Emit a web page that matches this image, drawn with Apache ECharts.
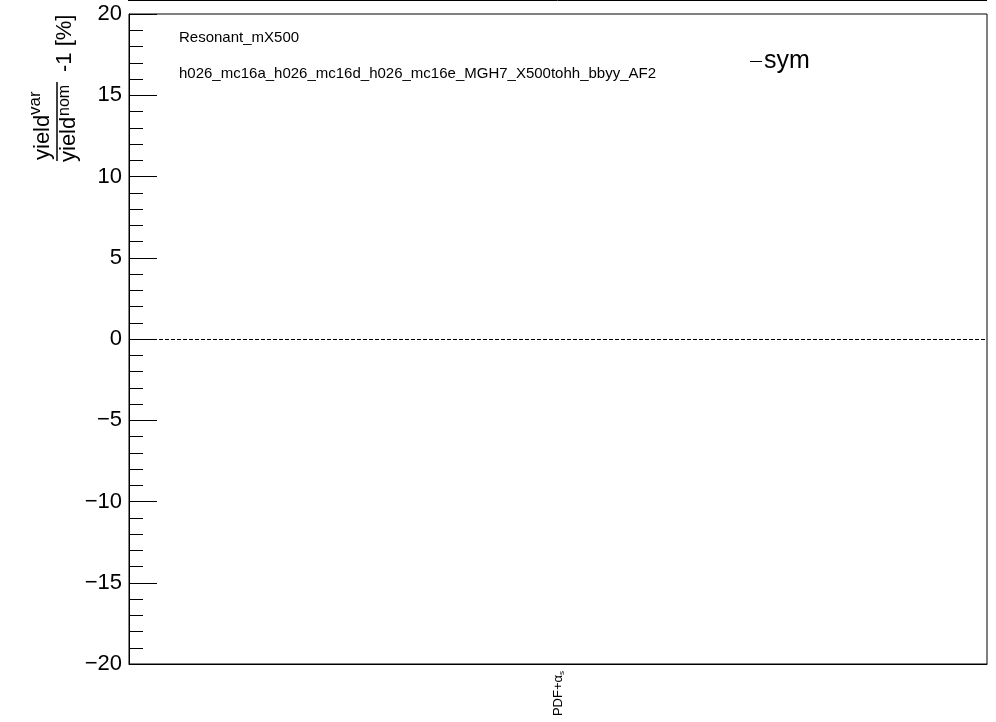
<!DOCTYPE html>
<html>
<head>
<meta charset="utf-8">
<script src="https://cdn.jsdelivr.net/npm/echarts@6/dist/echarts.min.js"></script>
<style>html,body{margin:0;padding:0;background:#fff}#c{width:996px;height:722px}</style>
</head>
<body>
<div id="c"></div>
<script>
// ---- data ----
const categories = ['PDF+α_s'];
const symValues = [0];
const seriesName = 'sym';
const yMin = -20, yMax = 20, yStep = 5;
const sampleLabel = 'Resonant_mX500';
const sampleName = 'h026_mc16a_h026_mc16d_h026_mc16e_MGH7_X500tohh_bbyy_AF2';

const F = 'Liberation Sans, Arial, Helvetica, sans-serif';
const chart = echarts.init(document.getElementById('c'), null, {renderer: 'canvas'});
chart.setOption({
  animation: false,
  backgroundColor: '#fff',
  grid: {left: 129, right: 9, top: 14, bottom: 58, show: true, borderColor: '#000', borderWidth: 1, backgroundColor: 'transparent'},
  legend: {
    left: 745, top: 44, itemWidth: 12, itemHeight: 1, icon: 'rect',
    data: [{name: seriesName, itemStyle: {color: '#000'}}],
    textStyle: {fontFamily: F, fontSize: 25, color: '#000', padding: [0,0,0,-3]}
  },
  xAxis: {
    type: 'category', data: categories,
    axisLine: {show: true, onZero: false, lineStyle: {color: '#000', width: 1}},
    axisTick: {show: false},
    splitLine: {show: false},
    axisLabel: {
      rotate: 90, margin: 7, color: '#000', fontFamily: F,
      formatter: function (v) {
        const m = v.match(/^(.*)α_(.*)$/);
        if (m) return '{n|' + m[1] + '}{a|α}{s|' + m[2] + '}';
        return '{n|' + v + '}';
      },
      rich: {
        n: {fontFamily: F, fontSize: 13, color: '#000', lineHeight: 15},
        a: {fontFamily: F, fontSize: 13, color: '#000', lineHeight: 15},
        s: {fontFamily: F, fontSize: 8, color: '#000', lineHeight: 8, verticalAlign: 'bottom', padding: [4, 0, 0, 0]}
      }
    }
  },
  yAxis: {
    type: 'value', min: yMin, max: yMax, interval: yStep,
    axisLine: {show: true, lineStyle: {color: '#000', width: 1}},
    axisTick: {show: true, inside: true, length: 28, lineStyle: {color: '#000', width: 1}},
    minorTick: {show: true, splitNumber: 5, length: 14, lineStyle: {color: '#000', width: 1}},
    splitLine: {show: false},
    axisLabel: {
      margin: 7, color: '#000', fontFamily: F, fontSize: 22,
      formatter: function (v) { return v < 0 ? '\u2212' + (-v) : String(v); }
    }
  },
  series: [{
    name: seriesName, type: 'line', data: symValues, symbol: 'none',
    lineStyle: {color: '#000', width: 1}, itemStyle: {color: '#000'},
    markLine: {
      silent: true, symbol: 'none', label: {show: false},
      lineStyle: {type: [4, 2], color: '#000', width: 1},
      data: [{yAxis: 0}]
    }
  }],
  graphic: [
    {type: 'line', shape: {x1: 128, y1: 0.5, x2: 987, y2: 0.5}, style: {stroke: '#000', lineWidth: 1}},
    {type: 'text', x: 179, y: 38, style: {text: sampleLabel, fontFamily: F, fontSize: 15, fill: '#000', verticalAlign: 'middle'}},
    {type: 'text', x: 179, y: 74, style: {text: sampleName, fontFamily: F, fontSize: 15, fill: '#000', verticalAlign: 'middle'}},
    {
      type: 'group', x: 57, y: 162, rotation: Math.PI / 2,
      children: [
        {type: 'line', shape: {x1: 1, y1: 0, x2: 80, y2: 0}, style: {stroke: '#000', lineWidth: 1.5}},
        {type: 'text', x: 2, y: -3, style: {text: 'yield', fontFamily: F, fontSize: 22, fill: '#000', verticalAlign: 'bottom'}},
        {type: 'text', x: 47, y: -30, style: {text: 'var', fontFamily: F, fontSize: 17, fill: '#000', verticalAlign: 'top'}},
        {type: 'text', x: 0, y: 1, style: {text: 'yield', fontFamily: F, fontSize: 22, fill: '#000', verticalAlign: 'top'}},
        {type: 'text', x: 46, y: 0, style: {text: 'nom', fontFamily: F, fontSize: 16, fill: '#000', verticalAlign: 'top'}},
        {type: 'text', x: 90, y: 8, style: {text: '-1 [%]', fontFamily: F, fontSize: 22, fill: '#000', verticalAlign: 'middle'}}
      ]
    }
  ]
});
</script>
</body>
</html>
